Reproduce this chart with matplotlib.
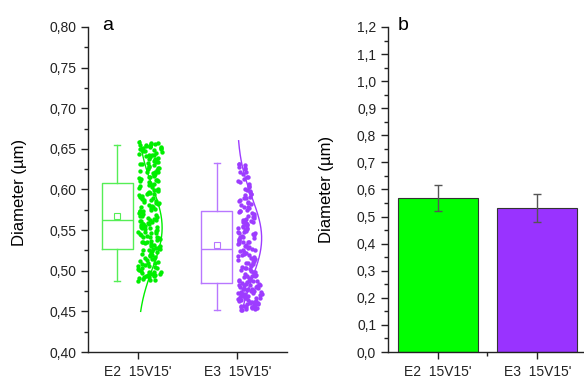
import numpy as np
import matplotlib.pyplot as plt
from matplotlib.ticker import MultipleLocator, FuncFormatter, FixedLocator

plt.rcParams['font.family'] = ['Liberation Sans', 'DejaVu Sans']

# ---- data ----
categories = ["E2  15V15'", "E3  15V15'"]

# box statistics (um)
box_whislo = [0.488, 0.452]
box_q1 = [0.527, 0.485]
box_med = [0.563, 0.527]
box_q3 = [0.608, 0.573]
box_whishi = [0.655, 0.633]
box_mean = [0.568, 0.532]

# individual diameters (um)
e2_vals = [0.488, 0.489, 0.491, 0.492, 0.494, 0.495, 0.496, 0.497, 0.498, 0.499,
           0.501, 0.503, 0.504, 0.506, 0.508, 0.509, 0.511, 0.513, 0.514, 0.516,
           0.517, 0.519, 0.520, 0.522, 0.523, 0.524, 0.526, 0.527, 0.528, 0.530,
           0.531, 0.532, 0.534, 0.535, 0.536, 0.537, 0.539, 0.540, 0.541, 0.542,
           0.543, 0.545, 0.546, 0.547, 0.548, 0.549, 0.551, 0.552, 0.553, 0.554,
           0.555, 0.556, 0.558, 0.559, 0.560, 0.561, 0.562, 0.563, 0.564, 0.566,
           0.567, 0.568, 0.569, 0.571, 0.572, 0.573, 0.575, 0.576, 0.577, 0.579,
           0.580, 0.581, 0.583, 0.584, 0.586, 0.587, 0.589, 0.590, 0.592, 0.593,
           0.595, 0.596, 0.598, 0.600, 0.601, 0.603, 0.605, 0.606, 0.608, 0.610,
           0.612, 0.613, 0.615, 0.617, 0.619, 0.621, 0.622, 0.624, 0.626, 0.628,
           0.630, 0.632, 0.634, 0.636, 0.637, 0.639, 0.641, 0.643, 0.645, 0.646,
           0.648, 0.649, 0.650, 0.651, 0.652, 0.653, 0.654, 0.655, 0.656, 0.657,
           0.490, 0.493, 0.496, 0.500, 0.502, 0.505, 0.507, 0.510, 0.512, 0.515,
           0.518, 0.521, 0.525, 0.529, 0.533, 0.538, 0.544, 0.550, 0.554, 0.557,
           0.565, 0.570, 0.574, 0.578, 0.582, 0.585, 0.588, 0.591, 0.594, 0.597,
           0.599, 0.602, 0.604, 0.607, 0.609, 0.611, 0.614, 0.616, 0.618, 0.620,
           0.623, 0.625, 0.627, 0.629, 0.631, 0.633, 0.635, 0.638, 0.640, 0.642,
           0.644, 0.647, 0.649, 0.651, 0.653, 0.655, 0.656, 0.657, 0.658, 0.654,
           0.498, 0.506, 0.527, 0.541, 0.548, 0.561, 0.573, 0.587, 0.596, 0.612,
           0.621, 0.634, 0.643, 0.650, 0.652, 0.489, 0.492, 0.495, 0.536, 0.558]
e3_vals = [0.452, 0.453, 0.454, 0.455, 0.455, 0.456, 0.457, 0.458, 0.459, 0.460,
           0.461, 0.462, 0.463, 0.464, 0.465, 0.466, 0.467, 0.468, 0.469, 0.470,
           0.471, 0.472, 0.473, 0.474, 0.475, 0.476, 0.477, 0.478, 0.479, 0.480,
           0.481, 0.482, 0.483, 0.484, 0.486, 0.487, 0.488, 0.490, 0.491, 0.493,
           0.494, 0.496, 0.497, 0.499, 0.500, 0.502, 0.503, 0.505, 0.506, 0.508,
           0.509, 0.511, 0.512, 0.514, 0.515, 0.517, 0.518, 0.520, 0.521, 0.523,
           0.524, 0.526, 0.527, 0.529, 0.530, 0.532, 0.533, 0.535, 0.536, 0.538,
           0.539, 0.541, 0.542, 0.544, 0.545, 0.547, 0.548, 0.550, 0.551, 0.553,
           0.554, 0.556, 0.557, 0.559, 0.560, 0.562, 0.563, 0.565, 0.566, 0.568,
           0.570, 0.572, 0.573, 0.575, 0.577, 0.579, 0.581, 0.583, 0.585, 0.587,
           0.589, 0.591, 0.593, 0.595, 0.597, 0.599, 0.601, 0.604, 0.607, 0.610,
           0.613, 0.616, 0.619, 0.622, 0.625, 0.628, 0.630, 0.632,
           0.452, 0.453, 0.454, 0.456, 0.457, 0.458, 0.459, 0.461, 0.462, 0.463,
           0.465, 0.466, 0.468, 0.469, 0.471, 0.472, 0.474, 0.475, 0.477, 0.478,
           0.480, 0.482, 0.484, 0.485, 0.487, 0.489, 0.492, 0.495, 0.498, 0.501,
           0.504, 0.507, 0.510, 0.513, 0.516, 0.519, 0.522, 0.525, 0.528, 0.531,
           0.534, 0.537, 0.540, 0.543, 0.546, 0.549, 0.552, 0.555, 0.558, 0.561,
           0.564, 0.567, 0.571, 0.574, 0.578, 0.582, 0.586, 0.590, 0.594, 0.598,
           0.603, 0.609, 0.615, 0.621, 0.627, 0.631, 0.455, 0.460, 0.464, 0.467,
           0.470, 0.473, 0.476, 0.479, 0.483, 0.488, 0.493, 0.536, 0.548, 0.560]

# fitted normal curve shown next to the points
curve_mu = [0.553, 0.540]
curve_sd = [0.050, 0.050]
curve_range = [(0.450, 0.660), (0.455, 0.660)]

# bar chart: mean +/- sd
bar_means = [0.567, 0.532]
bar_err = [0.048, 0.051]

box_colors = ['#55ee55', '#b877ff']
dot_colors = ['#00ee00', '#9d3cff']
bar_colors = ['#00ff00', '#9933ff']


def comma_fmt(dec):
    return FuncFormatter(lambda v, p: f'{v:.{dec}f}'.replace('.', ','))


def style_axes(ax):
    for s in ['top', 'right']:
        ax.spines[s].set_visible(False)
    for s in ['left', 'bottom']:
        ax.spines[s].set_color('#222222')
        ax.spines[s].set_linewidth(1)
    ax.tick_params(which='major', direction='out', length=5, width=1,
                   color='#222222', labelsize=10, labelcolor='#222222')
    ax.tick_params(which='minor', direction='out', length=3, width=1, color='#222222')
    ax.tick_params(axis='x', pad=4)


fig = plt.figure(figsize=(5.84, 3.76), dpi=100)
ax1 = fig.add_axes([88 / 584, 24 / 376, 199 / 584, 325 / 376])
ax2 = fig.add_axes([388 / 584, 24 / 376, 199 / 584, 325 / 376])

# ---- panel a ----
stats = []
for i in range(2):
    stats.append(dict(whislo=box_whislo[i], q1=box_q1[i], med=box_med[i],
                      q3=box_q3[i], whishi=box_whishi[i], mean=box_mean[i],
                      fliers=[]))
box_pos = [0.795, 1.795]
bp = ax1.bxp(stats, positions=box_pos, widths=0.31, showmeans=True,
             capwidths=0.06, manage_ticks=False,
             meanprops=dict(marker='s', markerfacecolor='none', markersize=4,
                            markeredgewidth=0.8))
for i, c in enumerate(box_colors):
    bp['boxes'][i].set_color(c)
    bp['medians'][i].set_color(c)
    bp['means'][i].set_markeredgecolor(c)
    for k in (2 * i, 2 * i + 1):
        bp['whiskers'][k].set_color(c)
        bp['caps'][k].set_color(c)
for key in ('boxes', 'medians', 'whiskers', 'caps'):
    for a in bp[key]:
        a.set_linewidth(1)

groups = [np.array(e2_vals), np.array(e3_vals)]
for g, vals in enumerate(groups):
    base = g + 1.0
    # normal curve
    yy = np.linspace(curve_range[g][0], curve_range[g][1], 200)
    xx = base + 0.245 * np.exp(-0.5 * ((yy - curve_mu[g]) / curve_sd[g]) ** 2)
    ax1.plot(xx, yy, color=dot_colors[g], lw=1, zorder=2)
    # jittered points, spread scaled by local density
    dens = np.array([np.sum(np.abs(vals - v) < 0.012) for v in vals], float)
    width = 0.25 * np.sqrt(dens / dens.max())
    idx = np.arange(len(vals))
    jit = np.abs(np.sin(idx * 12.9898 + g * 7.233) * 43758.5453) % 1.0
    ax1.scatter(base + 0.005 + jit * width, vals, s=10, color=dot_colors[g],
                linewidths=0, zorder=3)

ax1.set_xlim(0.5, 2.5)
ax1.set_ylim(0.40, 0.80)
ax1.xaxis.set_major_locator(FixedLocator([1, 2]))
ax1.set_xticklabels(categories)
ax1.yaxis.set_major_locator(MultipleLocator(0.05))
ax1.yaxis.set_minor_locator(MultipleLocator(0.025))
ax1.yaxis.set_major_formatter(comma_fmt(2))
style_axes(ax1)
ax1.set_ylabel('Diameter (µm)', fontsize=12)
ax1.yaxis.set_label_coords(-0.305, 0.49)
ax1.text(0.07, 0.991, 'a', transform=ax1.transAxes, fontsize=14,
         va='baseline', ha='left')

# ---- panel b ----
ax2.bar([1, 2], bar_means, width=0.8, color=bar_colors, edgecolor='#333333',
        linewidth=0.8, yerr=bar_err, capsize=3,
        error_kw=dict(ecolor='#555555', elinewidth=1, capthick=1))
ax2.set_xlim(0.5, 2.5)
ax2.set_ylim(0.0, 1.2)
ax2.xaxis.set_major_locator(FixedLocator([1, 2]))
ax2.xaxis.set_minor_locator(FixedLocator([1.5]))
ax2.set_xticklabels(categories)
ax2.yaxis.set_major_locator(MultipleLocator(0.1))
ax2.yaxis.set_minor_locator(MultipleLocator(0.05))
ax2.yaxis.set_major_formatter(comma_fmt(1))
style_axes(ax2)
ax2.set_ylabel('Diameter (µm)', fontsize=12)
ax2.yaxis.set_label_coords(-0.27, 0.5)
ax2.text(0.05, 0.991, 'b', transform=ax2.transAxes, fontsize=14,
         va='baseline', ha='left')

fig.savefig('out.png', dpi=100)
